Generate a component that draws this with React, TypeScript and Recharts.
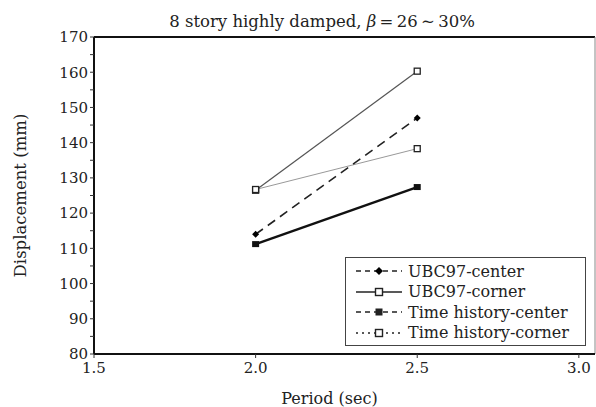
import { LineChart, Line, XAxis, YAxis, ReferenceLine, Legend } from 'recharts';

const periods = [2.0, 2.5];
const ubcCenter = [114, 147];
const ubcCorner = [126.5, 160.3];
const thCenter = [111.2, 127.4];
const thCorner = [126.7, 138.3];

const xTicks = [1.5, 2.0, 2.5, 3.0];
const yTicks = [80, 85, 90, 95, 100, 105, 110, 115, 120, 125, 130, 135, 140, 145, 150, 155, 160, 165, 170];

const data = periods.map((p, i) => ({
  period: p,
  ubcCenter: ubcCenter[i],
  ubcCorner: ubcCorner[i],
  thCenter: thCenter[i],
  thCorner: thCorner[i],
}));

const FONT = '"DejaVu Serif", serif';

const Diamond = (props: any) => {
  const { cx, cy, index } = props;
  return (
    <path
      key={'d' + index}
      d={`M${cx},${cy - 3.5}L${cx + 3.5},${cy}L${cx},${cy + 3.5}L${cx - 3.5},${cy}Z`}
      fill="#000"
    />
  );
};

const OpenSquare = (props: any) => {
  const { cx, cy, index } = props;
  return <rect key={'o' + index} x={cx - 3} y={cy - 3} width={6} height={6} fill="#fff" stroke="#222" strokeWidth={1.3} />;
};

const FilledSquare = (props: any) => {
  const { cx, cy, index } = props;
  return <rect key={'f' + index} x={cx - 3.5} y={cy - 3} width={7} height={6} fill="#111" />;
};

const legendRows = [
  { name: 'UBC97-center', dash: '5 4', marker: 'diamond' },
  { name: 'UBC97-corner', dash: '', marker: 'open' },
  { name: 'Time history-center', dash: '5 4', marker: 'filled' },
  { name: 'Time history-corner', dash: '2 4', marker: 'open' },
];

const LegendBox = () => (
  <div
    style={{
      border: '1.5px solid #444',
      width: 241,
      height: 89,
      background: '#fff',
      fontFamily: FONT,
      fontSize: 16,
      boxSizing: 'border-box',
      paddingTop: 3,
    }}
  >
    {legendRows.map((r) => (
      <div key={r.name} style={{ display: 'flex', alignItems: 'center', height: 20.5 }}>
        <svg width={56} height={14} style={{ marginLeft: 6, flex: 'none' }}>
          <line x1={4} y1={7} x2={50} y2={7} stroke="#222" strokeWidth={1.3} strokeDasharray={r.dash} />
          {r.marker === 'diamond' && <path d="M27,3L31,7L27,11L23,7Z" fill="#000" />}
          {r.marker === 'open' && <rect x={23.5} y={3.5} width={7} height={7} fill="#fff" stroke="#222" strokeWidth={1.4} />}
          {r.marker === 'filled' && <rect x={23.5} y={3.5} width={7} height={7} fill="#222" />}
        </svg>
        <span style={{ color: '#222', whiteSpace: 'nowrap' }}>{r.name}</span>
      </div>
    ))}
  </div>
);

export default function App() {
  return (
    <div style={{ position: 'absolute', left: 0, top: 0, width: 596, height: 407, background: '#fff' }}>
      <div
        style={{
          position: 'absolute',
          top: 12,
          left: 0,
          width: 644,
          textAlign: 'center',
          fontFamily: FONT,
          fontSize: 16.5,
          color: '#222',
        }}
      >
        8 story highly damped, <i>β</i>&#8201;=&#8201;26&#8201;∼&#8201;30%
      </div>
      <LineChart width={596} height={407} data={data} margin={{ top: 37, right: 1, left: 0, bottom: 0 }}>
        <XAxis
          dataKey="period"
          type="number"
          domain={[1.5, 3.05]}
          ticks={xTicks}
          tickFormatter={(v: number) => v.toFixed(1)}
          height={53}
          tickSize={4}
          tickMargin={4}
          axisLine={{ stroke: '#111', strokeWidth: 2 }}
          tickLine={{ stroke: '#333' }}
          tick={{ fill: '#222', fontFamily: FONT, fontSize: 15 }}
          label={{
            value: 'Period (sec)',
            position: 'insideBottom',
            offset: 3,
            dx: -15,
            style: { fill: '#222', fontFamily: FONT, fontSize: 16 },
          }}
        />
        <YAxis
          type="number"
          domain={[80, 170]}
          ticks={yTicks}
          interval={0}
          tickFormatter={(v: number) => (v % 10 === 0 ? String(v) : '')}
          width={94}
          tickSize={4}
          axisLine={{ stroke: '#111', strokeWidth: 2 }}
          tickLine={{ stroke: '#333' }}
          tick={{ fill: '#222', fontFamily: FONT, fontSize: 15 }}
          label={{
            value: 'Displacement (mm)',
            angle: -90,
            position: 'insideLeft',
            offset: 20,
            style: { fill: '#222', fontFamily: FONT, fontSize: 16.5, textAnchor: 'middle' },
          }}
        />
        <ReferenceLine y={170} stroke="#111" strokeWidth={2} />
        <ReferenceLine x={3.05} stroke="#888" strokeWidth={1} />
        <Line
          dataKey="ubcCorner"
          stroke="#555"
          strokeWidth={1.2}
          dot={OpenSquare}
          isAnimationActive={false}
        />
        <Line
          dataKey="thCorner"
          stroke="#999"
          strokeWidth={1}
          dot={OpenSquare}
          isAnimationActive={false}
        />
        <Line
          dataKey="ubcCenter"
          stroke="#222"
          strokeWidth={1.6}
          strokeDasharray="9 6"
          dot={Diamond}
          isAnimationActive={false}
        />
        <Line
          dataKey="thCenter"
          stroke="#111"
          strokeWidth={2.4}
          dot={FilledSquare}
          isAnimationActive={false}
        />
        <Legend
          layout="vertical"
          align="center"
          verticalAlign="middle"
          content={() => <LegendBox />}
          wrapperStyle={{ position: 'absolute', left: 345, top: 257, width: 'auto' }}
        />
      </LineChart>
    </div>
  );
}
